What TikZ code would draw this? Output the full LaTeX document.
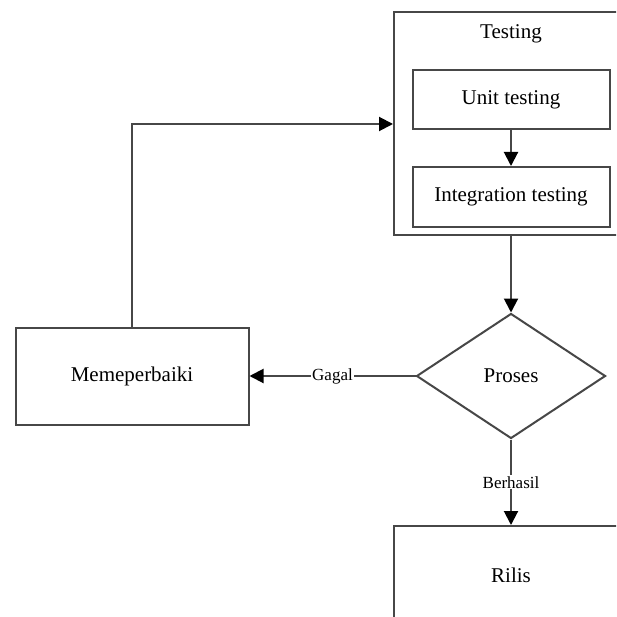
\documentclass[tikz,border=0pt]{standalone}
\usepackage{fontspec}
\setmainfont{Liberation Serif}
\usetikzlibrary{shapes.geometric,arrows.meta}
\begin{document}
\begin{tikzpicture}[x=1pt,y=-1pt,
  ln/.style={draw=black!72,line width=2pt},
  boxnode/.style={ln,rectangle,inner sep=0pt,font=\fontsize{21}{24}\selectfont},
  lbl/.style={fill=white,inner sep=1pt,font=\fontsize{17}{19}\selectfont},
  arr/.style={ln,-{Triangle[length=14pt,width=14pt,color=black]}}]
\useasboundingbox (0,0) rectangle (616,617);
\clip (0,0) rectangle (616,617);
\fill[white] (0,0) rectangle (616,617);
\node[boxnode,minimum width=234pt,minimum height=223pt] (testing) at (511,124) {};
\node[font=\fontsize{21}{24}\selectfont,inner sep=0pt] (ttitle) at (511,34) {Testing};
\node[boxnode,minimum width=197pt,minimum height=59pt] (unit) at (511,99.5) {Unit testing};
\node[boxnode,minimum width=197pt,minimum height=60pt] (integ) at (511,197) {Integration testing};
\node[ln,diamond,inner sep=0pt,aspect=1.512,minimum width=189pt,minimum height=125pt,font=\fontsize{21}{24}\selectfont] (proses) at (511,376) {Proses};
\node[boxnode,minimum width=233pt,minimum height=97pt] (mem) at (132,376) {Memeperbaiki};
\node[boxnode,minimum width=234pt,minimum height=98pt] (rilis) at (511,575) {Rilis};
\draw[arr] (unit) -- (integ);
\draw[arr] (testing.south) -- (proses.north);
\draw[arr] (proses.west) -- node[lbl] {Gagal} (mem.east);
\draw[arr] (proses.south) -- node[lbl] {Berhasil} (rilis.north);
\draw[arr] (mem.north) |- (testing.west);
\end{tikzpicture}
\end{document}
